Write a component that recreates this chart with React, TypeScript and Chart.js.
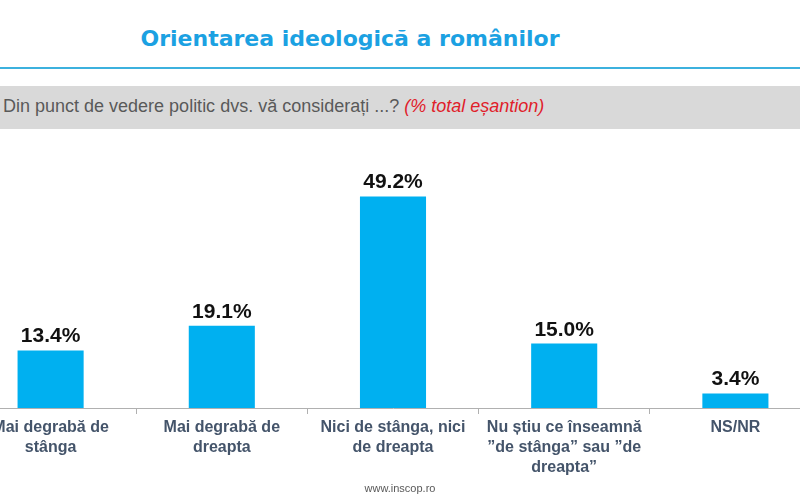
import React, { useEffect, useRef } from "react";
import { Chart, registerables } from "chart.js";

Chart.register(...registerables);

const categories: string[][] = [
  ["Mai degrabă de", "stânga"],
  ["Mai degrabă de", "dreapta"],
  ["Nici de stânga, nici", "de dreapta"],
  ["Nu știu ce înseamnă", "”de stânga” sau ”de", "dreapta”"],
  ["NS/NR"],
];
const values: number[] = [13.4, 19.1, 49.2, 15.0, 3.4];
const valueLabels: string[] = ["13.4%", "19.1%", "49.2%", "15.0%", "3.4%"];

const titleText = "Orientarea ideologică a românilor";
const questionText = "Din punct de vedere politic dvs. vă considerați ...?";
const noteText = "(% total eșantion)";
const footerText = "www.inscop.ro";

const labelPlugin = {
  id: "valueLabels",
  afterDatasetsDraw(chart: any) {
    const ctx = chart.ctx;
    const meta = chart.getDatasetMeta(0);
    ctx.save();
    ctx.font = "bold 21px 'Liberation Sans', Arial, sans-serif";
    ctx.fillStyle = "#111111";
    ctx.textAlign = "center";
    ctx.textBaseline = "alphabetic";
    meta.data.forEach((bar: any, i: number) => {
      ctx.fillText(valueLabels[i], bar.x, bar.y - 8);
    });
    ctx.restore();
  },
};

export default function App() {
  const canvasRef = useRef<HTMLCanvasElement | null>(null);

  useEffect(() => {
    if (!canvasRef.current) return;
    const chart = new Chart(canvasRef.current, {
      type: "bar",
      data: {
        labels: categories,
        datasets: [
          {
            data: values,
            backgroundColor: "#00b0f0",
            categoryPercentage: 1,
            barPercentage: 0.386,
          },
        ],
      },
      options: {
        responsive: false,
        animation: false,
        layout: { padding: 0 },
        plugins: {
          legend: { display: false },
          tooltip: { enabled: false },
        },
        scales: {
          x: {
            offset: true,
            afterFit: (scale: any) => {
              scale.height = 92;
            },
            border: { display: true, color: "#b0b0b0", width: 1 },
            grid: {
              display: true,
              drawOnChartArea: false,
              drawTicks: true,
              tickLength: 6,
              offset: true,
              color: "#b0b0b0",
            },
            ticks: {
              padding: 4,
              color: "#44546a",
              font: {
                family: "'Liberation Sans', Arial, sans-serif",
                size: 16,
                weight: "bold",
                lineHeight: 1.25,
              },
              maxRotation: 0,
              autoSkip: false,
            },
          },
          y: {
            display: false,
            min: 0,
            max: 60,
          },
        },
      },
      plugins: [labelPlugin],
    });
    return () => chart.destroy();
  }, []);

  return (
    <div
      style={{
        position: "absolute",
        left: 0,
        top: 0,
        width: 800,
        height: 500,
        overflow: "hidden",
        background: "#ffffff",
      }}
    >
      <div
        style={{
          position: "absolute",
          left: 0,
          width: 700,
          top: 24,
          textAlign: "center",
          fontFamily: "'DejaVu Sans', Verdana, sans-serif",
          fontWeight: "bold",
          fontSize: 22,
          color: "#1ba1e2",
          lineHeight: "30px",
          whiteSpace: "nowrap",
        }}
      >
        {titleText}
      </div>
      <div
        style={{
          position: "absolute",
          left: 0,
          top: 67,
          width: 800,
          height: 2,
          background: "#3cb1de",
        }}
      />
      <div
        style={{
          position: "absolute",
          left: 0,
          top: 86,
          width: 800,
          height: 43,
          background: "#d9d9d9",
        }}
      />
      <div
        style={{
          position: "absolute",
          left: 3,
          top: 94,
          whiteSpace: "nowrap",
          fontFamily: "'Liberation Sans', Arial, sans-serif",
          fontSize: 18,
          lineHeight: "24px",
          color: "#595959",
        }}
      >
        {questionText}{" "}
        <span style={{ color: "#e0202a", fontStyle: "italic" }}>{noteText}</span>
      </div>
      <canvas
        ref={canvasRef}
        width={856}
        height={350}
        style={{ position: "absolute", left: -35, top: 150 }}
      />
      <div
        style={{
          position: "absolute",
          left: 0,
          width: 800,
          top: 481,
          textAlign: "center",
          fontFamily: "'Liberation Sans', Arial, sans-serif",
          fontSize: 11,
          color: "#595959",
          lineHeight: "14px",
        }}
      >
        {footerText}
      </div>
    </div>
  );
}
